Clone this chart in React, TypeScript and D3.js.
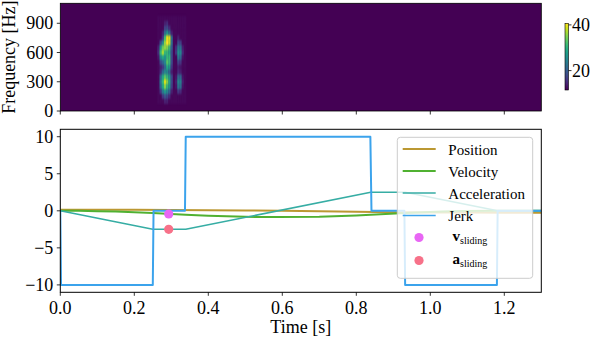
import React from "react";
import * as d3 from "d3";

const W = 596;
const H = 340;

// ---- Kinematic profiles (time [s], value) ----
const jerkTime = [0, 0.002, 0.25, 0.252, 0.337, 0.339, 0.838, 0.841, 0.93, 0.932, 1.18, 1.182, 1.3];
const jerkValue = [0, -10, -10, 0, 0, 10, 10, 0, 0, -10, -10, 0, 0];

const accTime = [0, 0.25, 0.339, 0.839, 0.932, 1.182, 1.3];
const accValue = [0, -2.5, -2.5, 2.5, 2.5, 0, 0];

const velTime = [0, 0.05, 0.1, 0.15, 0.2, 0.25, 0.3, 0.339, 0.4, 0.5, 0.589, 0.7, 0.8, 0.839, 0.932, 0.982, 1.032, 1.082, 1.182, 1.3];
const velValue = [0, -0.01, -0.05, -0.11, -0.2, -0.31, -0.44, -0.53, -0.67, -0.81, -0.85, -0.79, -0.62, -0.53, -0.3, -0.19, -0.1, -0.04, 0, 0];

const posTime = [0, 0.1, 0.2, 0.3, 0.4, 0.5, 0.6, 0.7, 0.8, 0.9, 1.0, 1.1, 1.2, 1.3];
const posValue = [0.15, 0.15, 0.14, 0.12, 0.09, 0.05, 0.0, -0.06, -0.12, -0.18, -0.22, -0.24, -0.25, -0.25];

const markerTime = [0.293, 0.293];
const markerValue = [-0.43, -2.5];

// ---- Ticks ----
const xTicks = [0, 0.2, 0.4, 0.6, 0.8, 1.0, 1.2];
const yTicks = [-10, -5, 0, 5, 10];
const freqTicks = [0, 300, 600, 900];
const cbarTicks = [20, 40];

// ---- Spectrogram cells (dB) ----
const specTimes = [0.265, 0.271, 0.277, 0.283, 0.289, 0.295, 0.301, 0.307, 0.313, 0.319, 0.325, 0.331, 0.337];
const specFreqs = [950, 900, 850, 800, 750, 700, 650, 600, 550, 500, 450, 400, 350, 300, 250, 200, 150, 100];
const specDb = [
  [12, 12, 12, 12, 12, 12, 12, 12, 12, 12, 12, 12, 12],
  [12, 12, 12, 14, 15, 12, 12, 12, 12, 12, 12, 12, 12],
  [12, 12, 12, 17, 18, 15, 12, 12, 12, 12, 12, 12, 12],
  [12, 12, 14, 22, 27, 22, 14, 12, 12, 12, 12, 12, 12],
  [12, 12, 16, 32, 40, 39, 22, 12, 12, 14, 12, 12, 12],
  [12, 18, 25, 36, 41, 38, 22, 12, 12, 18, 17, 12, 12],
  [14, 27, 34, 36, 35, 31, 20, 12, 15, 23, 22, 14, 12],
  [15, 31, 37, 31, 31, 29, 18, 12, 16, 26, 25, 15, 12],
  [13, 25, 29, 26, 31, 31, 18, 12, 12, 23, 21, 13, 12],
  [12, 18, 21, 25, 33, 31, 18, 12, 12, 17, 16, 12, 12],
  [12, 14, 16, 21, 29, 27, 16, 12, 12, 14, 13, 12, 12],
  [12, 15, 21, 25, 25, 21, 14, 12, 12, 15, 14, 12, 12],
  [12, 21, 29, 33, 31, 27, 18, 12, 13, 21, 21, 13, 12],
  [12, 23, 31, 39, 35, 29, 18, 12, 14, 25, 24, 14, 12],
  [12, 21, 29, 35, 31, 27, 17, 12, 13, 23, 22, 13, 12],
  [12, 16, 23, 27, 25, 21, 14, 12, 12, 16, 15, 12, 12],
  [12, 12, 16, 19, 18, 15, 12, 12, 12, 12, 12, 12, 12],
  [12, 12, 12, 14, 14, 12, 12, 12, 12, 12, 12, 12, 12],
];
const specCellT = 0.006;
const specCellF = 50;
const dbMin = 11.5;
const dbMax = 40.7;

// ---- Legend ----
const legendLabels = ["Position", "Velocity", "Acceleration", "Jerk"];
const colors = {
  position: "#bb9832",
  velocity: "#50b131",
  acceleration: "#36ada4",
  jerk: "#3ba3ec",
  vslide: "#e866f4",
  aslide: "#f77189",
};

const FONT = "'Liberation Serif', 'Times New Roman', Times, serif";

export default function App() {
  const left = 60.3;
  const right = 541.3;
  const x = d3.scaleLinear().domain([0, 1.3]).range([left, right]);

  // bottom axes
  const bTop = 129.3;
  const bBot = 292.3;
  const y = d3.scaleLinear().domain([-11, 11]).range([bBot, bTop]);

  // top axes (spectrogram)
  const sTop = 3.3;
  const sBot = 111;
  const yf = d3.scaleLinear().domain([0, 1105]).range([sBot, sTop]);

  const color = d3.scaleSequential(d3.interpolateViridis).domain([dbMin, dbMax]).clamp(true);

  // colorbar
  const cbX = 565;
  const cbW = 3.5;
  const cbTop = 23.3;
  const cbBot = 90;
  const yc = d3.scaleLinear().domain([dbMin, dbMax]).range([cbBot, cbTop]);

  const line = d3
    .line<[number, number]>()
    .x((d) => x(d[0]))
    .y((d) => y(d[1]));

  const zip = (a: number[], b: number[]) => a.map((t, i) => [t, b[i]] as [number, number]);

  const series = [
    { d: zip(posTime, posValue), c: colors.position, w: 2 },
    { d: zip(velTime, velValue), c: colors.velocity, w: 2 },
    { d: zip(accTime, accValue), c: colors.acceleration, w: 1.6 },
    { d: zip(jerkTime, jerkValue), c: colors.jerk, w: 2 },
  ];

  const gradStops = d3.range(0, 1.0001, 0.05);

  // legend geometry
  const lgX = 397.3;
  const lgY = 137.3;
  const lgW = 135.4;
  const lgH = 141;
  const rowY = [149, 171, 193, 215.5, 237.5, 260.5];

  return (
    <svg
      width={W}
      height={H}
      style={{ position: "absolute", left: 0, top: 0, background: "#fff" }}
      fontFamily={FONT}
    >
      <defs>
        <linearGradient id="cbgrad" x1="0" y1="1" x2="0" y2="0">
          {gradStops.map((s) => (
            <stop key={s} offset={s} stopColor={d3.interpolateViridis(s)} />
          ))}
        </linearGradient>
        <filter id="specblur" x="-20%" y="-20%" width="140%" height="140%" colorInterpolationFilters="sRGB">
          <feGaussianBlur stdDeviation="0.6 1.2" />
        </filter>
        <clipPath id="specclip">
          <rect x={left} y={sTop} width={right - left} height={sBot - sTop} />
        </clipPath>
        <clipPath id="bclip">
          <rect x={left} y={bTop} width={right - left} height={bBot - bTop} />
        </clipPath>
      </defs>

      {/* ---------- Spectrogram ---------- */}
      <rect x={left} y={sTop} width={right - left} height={sBot - sTop} fill={color(dbMin)} />
      <g clipPath="url(#specclip)">
        <g filter="url(#specblur)">
          {specDb.map((row, ri) =>
            row.map((v, ci) => {
              const t = specTimes[ci];
              const f = specFreqs[ri];
              const x0 = x(t - specCellT / 2);
              const x1 = x(t + specCellT / 2);
              const y0 = yf(f + specCellF / 2);
              const y1 = yf(f - specCellF / 2);
              return (
                <rect
                  key={`${ri}-${ci}`}
                  x={x0}
                  y={y0}
                  width={x1 - x0 + 0.3}
                  height={y1 - y0 + 0.3}
                  fill={color(v)}
                />
              );
            })
          )}
        </g>
      </g>
      <rect x={left} y={sTop} width={right - left} height={sBot - sTop} fill="none" stroke="#000" strokeWidth={0.8} />
      {freqTicks.map((f) => (
        <g key={f}>
          <line x1={left - 3.5} x2={left} y1={yf(f)} y2={yf(f)} stroke="#000" strokeWidth={0.8} />
          <text x={left - 7} y={yf(f) + 6} textAnchor="end" fontSize={18}>
            {f}
          </text>
        </g>
      ))}
      {xTicks.map((t) => (
        <line key={t} x1={x(t)} x2={x(t)} y1={sBot} y2={sBot + 3.5} stroke="#000" strokeWidth={0.8} />
      ))}
      <text transform={`translate(14.5, ${(sTop + sBot) / 2}) rotate(-90)`} textAnchor="middle" fontSize={18}>
        Frequency [Hz]
      </text>

      {/* ---------- Colorbar ---------- */}
      <rect x={cbX} y={cbTop} width={cbW} height={cbBot - cbTop} fill="url(#cbgrad)" stroke="#000" strokeWidth={0.6} />
      {cbarTicks.map((v) => (
        <g key={v}>
          <line x1={cbX + cbW} x2={cbX + cbW + 3} y1={yc(v)} y2={yc(v)} stroke="#000" strokeWidth={0.8} />
          <text x={cbX + cbW + 3.5} y={yc(v) + 6} fontSize={18}>
            {v}
          </text>
        </g>
      ))}

      {/* ---------- Kinematics ---------- */}
      <g clipPath="url(#bclip)">
        {series.map((s, i) => (
          <path key={i} d={line(s.d) || ""} fill="none" stroke={s.c} strokeWidth={s.w} strokeLinejoin="round" />
        ))}
        <circle cx={x(markerTime[0])} cy={y(markerValue[0])} r={4.6} fill={colors.vslide} />
        <circle cx={x(markerTime[1])} cy={y(markerValue[1])} r={4.6} fill={colors.aslide} />
      </g>
      <rect x={left} y={bTop} width={right - left} height={bBot - bTop} fill="none" stroke="#000" strokeWidth={1} />
      {xTicks.map((t) => (
        <g key={t}>
          <line x1={x(t)} x2={x(t)} y1={bBot} y2={bBot + 3.5} stroke="#000" strokeWidth={0.8} />
          <text x={x(t)} y={314} textAnchor="middle" fontSize={18}>
            {t.toFixed(1)}
          </text>
        </g>
      ))}
      {yTicks.map((v) => (
        <g key={v}>
          <line x1={left - 3.5} x2={left} y1={y(v)} y2={y(v)} stroke="#000" strokeWidth={0.8} />
          <text x={left - 7} y={y(v) + 6} textAnchor="end" fontSize={18}>
            {v < 0 ? `\u2212${Math.abs(v)}` : `${v}`}
          </text>
        </g>
      ))}
      <text x={(left + right) / 2} y={333} textAnchor="middle" fontSize={18}>
        Time [s]
      </text>

      {/* ---------- Legend ---------- */}
      <rect x={lgX} y={lgY} width={lgW} height={lgH} rx={3} ry={3} fill="#fff" fillOpacity={0.8} stroke="#cccccc" strokeWidth={1} />
      {legendLabels.map((lab, i) => {
        const s = series[i];
        return (
          <g key={lab}>
            <line x1={402.7} x2={435.7} y1={rowY[i]} y2={rowY[i]} stroke={s.c} strokeWidth={i < 2 ? 2 : 1.4} />
            <text x={448.3} y={rowY[i] + 5.5} fontSize={15}>
              {lab}
            </text>
          </g>
        );
      })}
      <circle cx={419} cy={rowY[4]} r={4.6} fill={colors.vslide} />
      <text x={452.5} y={rowY[4] + 3} fontSize={15}>
        <tspan fontWeight="bold">v</tspan>
        <tspan fontSize={10} dy={3}>sliding</tspan>
      </text>
      <circle cx={419} cy={rowY[5]} r={4.6} fill={colors.aslide} />
      <text x={452.5} y={rowY[5] + 3} fontSize={15}>
        <tspan fontWeight="bold">a</tspan>
        <tspan fontSize={10} dy={3}>sliding</tspan>
      </text>
    </svg>
  );
}
